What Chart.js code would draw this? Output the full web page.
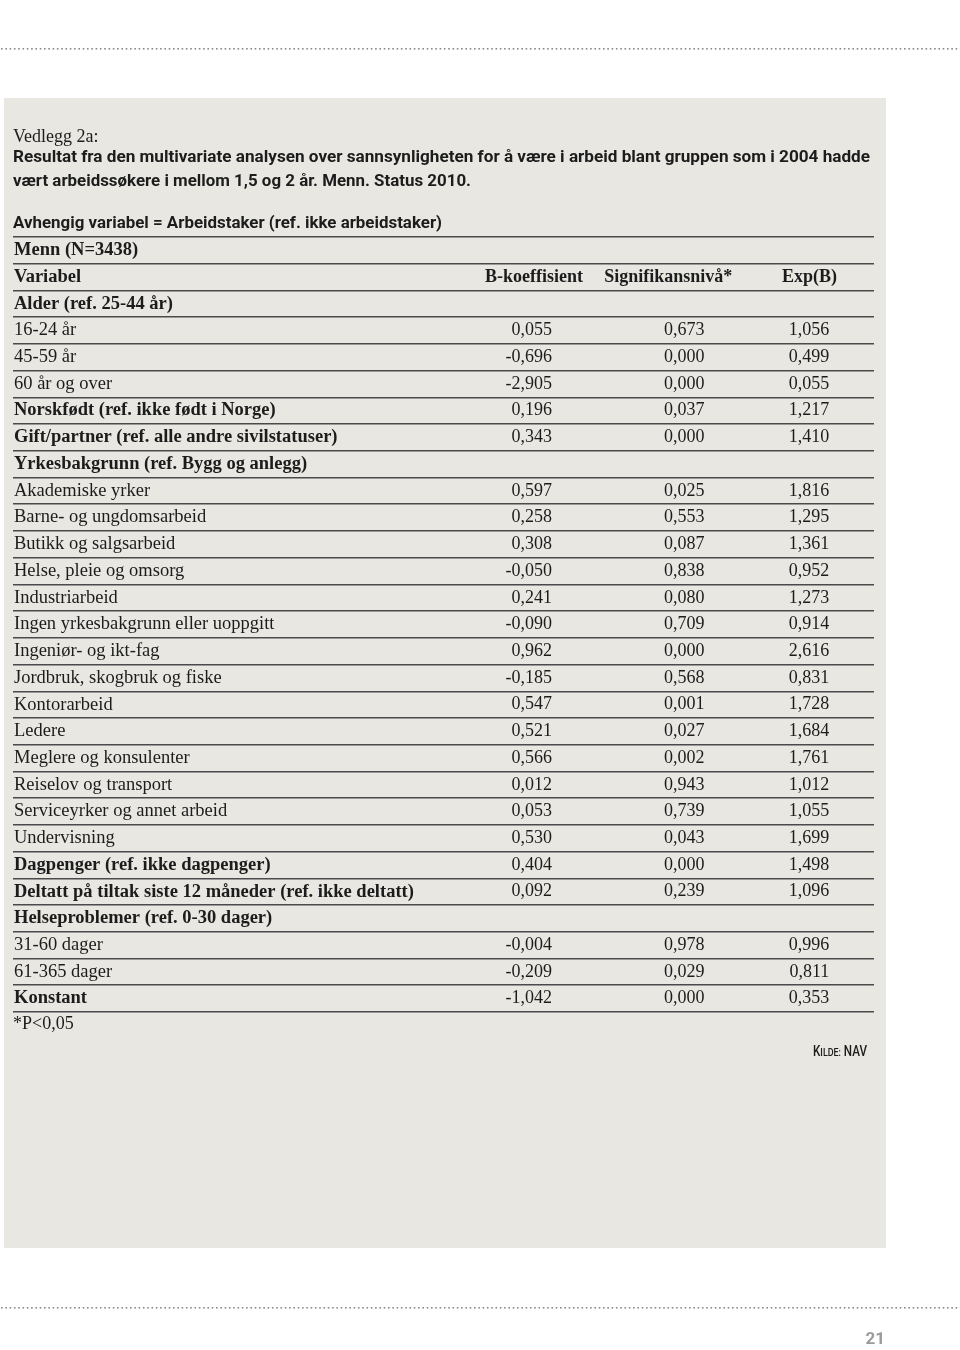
<!DOCTYPE html>
<html>
<head>
<meta charset="utf-8">
<script src="https://cdn.jsdelivr.net/npm/chart.js@4.4.0/dist/chart.umd.min.js"></script>
<style>
  html, body { margin: 0; padding: 0; background: #fff; }
  #wrap { position: relative; width: 960px; height: 1350px; }
</style>
</head>
<body>
<div id="wrap"><canvas id="myChart"></canvas></div>
<script>
// Radene i tabellen (kategori-aksen)
var rowLabels = [
  'Menn (N=3438)', 'Variabel', 'Alder (ref. 25-44 år)', '16-24 år', '45-59 år', '60 år og over',
  'Norskfødt (ref. ikke født i Norge)', 'Gift/partner (ref. alle andre sivilstatuser)',
  'Yrkesbakgrunn (ref. Bygg og anlegg)', 'Akademiske yrker', 'Barne- og ungdomsarbeid',
  'Butikk og salgsarbeid', 'Helse, pleie og omsorg', 'Industriarbeid',
  'Ingen yrkesbakgrunn eller uoppgitt', 'Ingeniør- og ikt-fag', 'Jordbruk, skogbruk og fiske',
  'Kontorarbeid', 'Ledere', 'Meglere og konsulenter', 'Reiselov og transport',
  'Serviceyrker og annet arbeid', 'Undervisning', 'Dagpenger (ref. ikke dagpenger)',
  'Deltatt på tiltak siste 12 måneder (ref. ikke deltatt)', 'Helseproblemer (ref. 0-30 dager)',
  '31-60 dager', '61-365 dager', 'Konstant'
];
var boldRows = [0, 1, 2, 6, 7, 8, 23, 24, 25, 28];
var columnHeads = ['B-koeffisient', 'Signifikansnivå*', 'Exp(B)'];

var bKoef = [null, null, null, 0.055, -0.696, -2.905, 0.196, 0.343, null, 0.597, 0.258, 0.308, -0.050,
  0.241, -0.090, 0.962, -0.185, 0.547, 0.521, 0.566, 0.012, 0.053, 0.530, 0.404, 0.092, null, -0.004, -0.209, -1.042];
var sigNiva = [null, null, null, 0.673, 0.000, 0.000, 0.037, 0.000, null, 0.025, 0.553, 0.087, 0.838,
  0.080, 0.709, 0.000, 0.568, 0.001, 0.027, 0.002, 0.943, 0.739, 0.043, 0.000, 0.239, null, 0.978, 0.029, 0.000];
var expB = [null, null, null, 1.056, 0.499, 0.055, 1.217, 1.410, null, 1.816, 1.295, 1.361, 0.952,
  1.273, 0.914, 2.616, 0.831, 1.728, 1.684, 1.761, 1.012, 1.055, 1.699, 1.498, 1.096, null, 0.996, 0.811, 0.353];

// plassering av kolonnene på x-skalaen (0-100)
var colRight = [62.6, 80.3, 94.8];
var colHead = [60.5, 76.1, 92.5];

var serif = '"Liberation Serif", "Times New Roman", serif';
var sans = 'Roboto, "Open Sans", sans-serif';
var textColor = '#1c1c1c';

function fmt(v) {
  return v.toFixed(3).replace('.', ',');
}

var series = [bKoef, sigNiva, expB];
var datasets = series.map(function (vals, k) {
  var pts = [];
  vals.forEach(function (v, i) {
    if (v !== null) pts.push({ x: colRight[k], y: rowLabels[i], v: v });
  });
  return { label: columnHeads[k], data: pts, pointRadius: 0, pointHoverRadius: 0, showLine: false };
});

function fitText(ctx, txt, x, y, w) {
  var m = ctx.measureText(txt).width;
  ctx.save();
  ctx.translate(x, y);
  ctx.scale(w / m, 1);
  ctx.fillText(txt, 0, 0);
  ctx.restore();
}

function dots(ctx, y) {
  ctx.fillStyle = '#8a8a8a';
  for (var x = 1; x < 960; x += 4.3) ctx.fillRect(x, y, 1.6, 1.6);
}

var pagePlugin = {
  id: 'page',
  beforeDraw: function (chart) {
    var ctx = chart.ctx;
    ctx.save();
    ctx.fillStyle = '#fff';
    ctx.fillRect(0, 0, chart.width, chart.height);
    ctx.fillStyle = '#e8e7e2';
    ctx.fillRect(4, 98, 882, 1150);
    dots(ctx, 48);
    dots(ctx, 1307);
    ctx.restore();
  },
  afterDraw: function (chart) {
    var ctx = chart.ctx;
    ctx.save();
    ctx.fillStyle = textColor;
    ctx.textBaseline = 'middle';
    ctx.textAlign = 'left';
    ctx.font = '18px ' + serif;
    ctx.fillText('Vedlegg 2a:', 13, 137);
    ctx.font = 'bold 16px ' + sans;
    fitText(ctx, 'Resultat fra den multivariate analysen over sannsynligheten for å være i arbeid blant gruppen som i 2004 hadde', 13, 158, 857);
    fitText(ctx, 'vært arbeidssøkere i mellom 1,5 og 2 år. Menn. Status 2010.', 13, 182, 458);
    fitText(ctx, 'Avhengig variabel = Arbeidstaker (ref. ikke arbeidstaker)', 13, 224, 429);

    // fotnote under tabellen
    var yScale = chart.scales.y;
    ctx.font = '18px ' + serif;
    ctx.fillText('*P<0,05', 13, yScale.bottom + 12);

    // Kilde: NAV (kapitéler)
    var parts = [['K', 15], ['ILDE:', 11.5], [' NAV', 15]];
    var total = 0;
    parts.forEach(function (p) { ctx.font = '500 ' + p[1] + 'px ' + sans; total += ctx.measureText(p[0]).width; });
    var sx = 54 / total;
    ctx.textBaseline = 'alphabetic';
    ctx.translate(813, 1056);
    ctx.scale(sx, 1);
    var kx = 0;
    parts.forEach(function (p) {
      ctx.font = '500 ' + p[1] + 'px ' + sans;
      ctx.fillText(p[0], kx, 0);
      kx += ctx.measureText(p[0]).width;
    });
    ctx.setTransform(1, 0, 0, 1, 0, 0);

    // sidetall
    ctx.fillStyle = '#9a9a9a';
    ctx.font = 'bold 17px ' + sans;
    ctx.textAlign = 'right';
    ctx.textBaseline = 'middle';
    ctx.fillText('21', 885, 1340);
    ctx.restore();
  }
};

var tablePlugin = {
  id: 'tableText',
  afterDatasetsDraw: function (chart) {
    var ctx = chart.ctx;
    var xScale = chart.scales.x;
    var yScale = chart.scales.y;
    ctx.save();
    ctx.fillStyle = textColor;
    ctx.textBaseline = 'middle';

    // kolonneoverskrifter på raden "Variabel"
    ctx.font = 'bold 18px ' + serif;
    ctx.textAlign = 'center';
    var headY = yScale.getPixelForValue(rowLabels.indexOf('Variabel'));
    columnHeads.forEach(function (h, k) {
      ctx.fillText(h, xScale.getPixelForValue(colHead[k]), headY);
    });

    ctx.font = '18px ' + serif;
    ctx.textAlign = 'right';
    chart.data.datasets.forEach(function (ds, k) {
      var meta = chart.getDatasetMeta(k);
      meta.data.forEach(function (pt, j) {
        ctx.fillText(fmt(ds.data[j].v), pt.x, pt.y);
      });
    });
    ctx.restore();
  }
};

var ctx = document.getElementById('myChart').getContext('2d');
var myChart = new Chart(ctx, {
  type: 'scatter',
  data: { labels: rowLabels, datasets: datasets },
  options: {
    responsive: true,
    maintainAspectRatio: false,
    animation: false,
    events: [],
    layout: { padding: { left: 11, right: 86, top: 237, bottom: 338 } },
    plugins: { legend: { display: false }, tooltip: { enabled: false } },
    scales: {
      x: { type: 'linear', min: 0, max: 100, display: false },
      y: {
        type: 'category',
        labels: rowLabels,
        offset: true,
        border: { display: false },
        grid: { offset: true, drawTicks: false, color: '#4a4a4a', lineWidth: 1.6 },
        ticks: {
          mirror: true,
          padding: 1,
          autoSkip: false,
          color: textColor,
          font: function (c) {
            return { family: serif, size: 18.5, weight: boldRows.indexOf(c.index) >= 0 ? 'bold' : 'normal' };
          }
        }
      }
    }
  },
  plugins: [pagePlugin, tablePlugin]
});
</script>
</body>
</html>
